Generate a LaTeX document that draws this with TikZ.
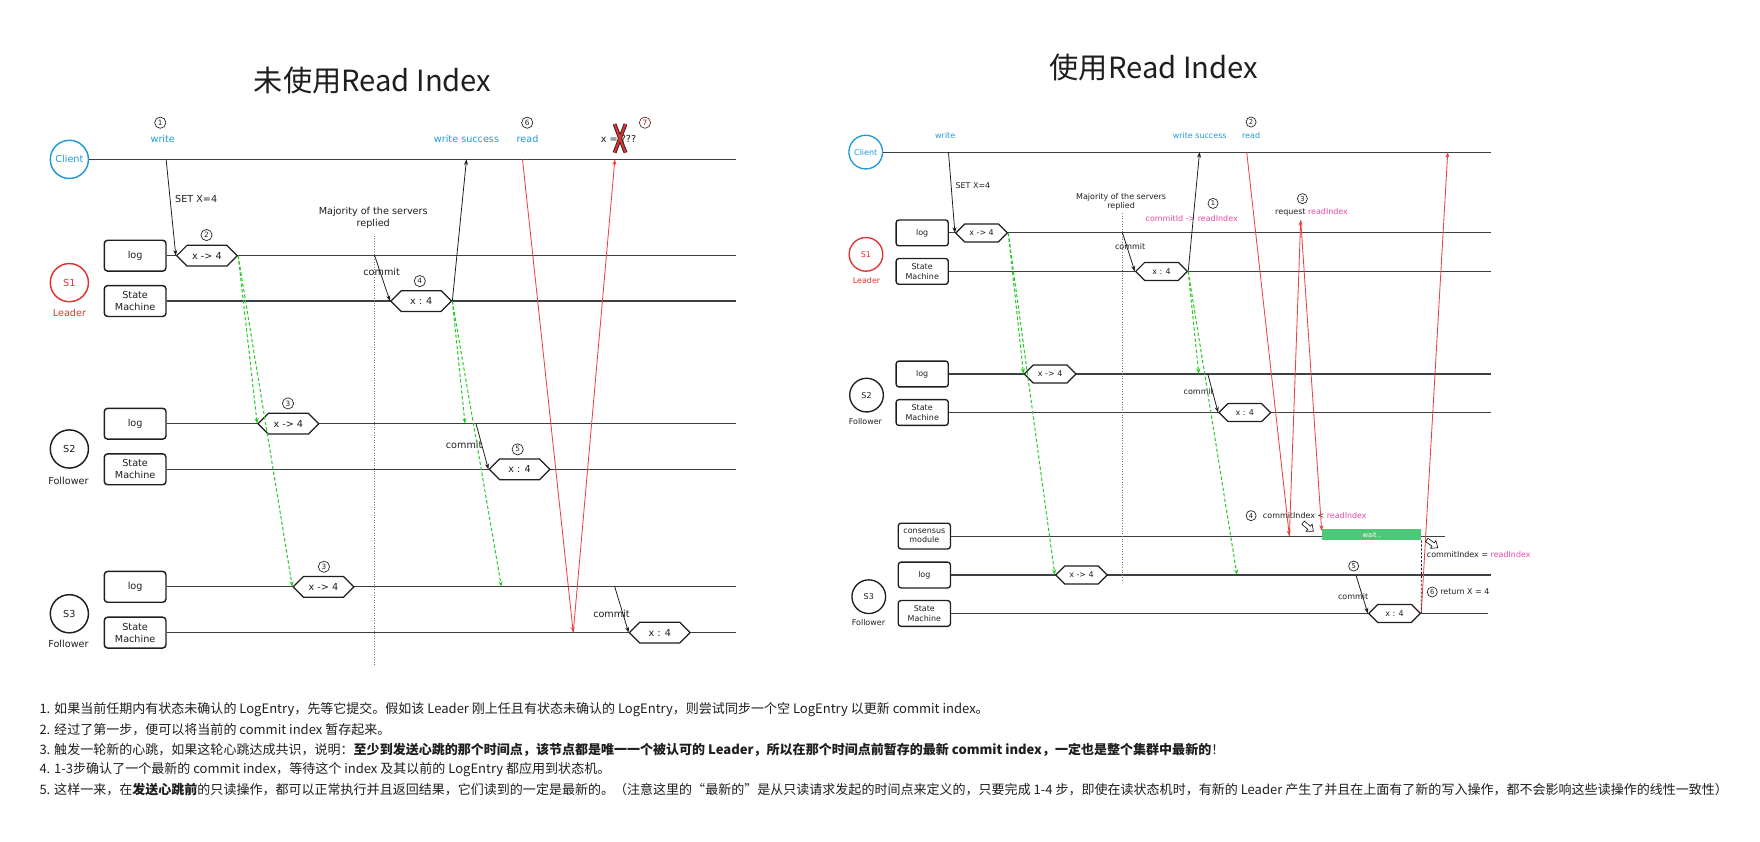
\documentclass[tikz,border=0pt]{standalone}
\usepackage{fontspec}
\setmainfont{DejaVu Sans}
\newfontfamily\cjk{Noto Sans CJK SC}
\usetikzlibrary{arrows.meta,shapes.symbols}
\definecolor{cblue}{RGB}{30,155,215}
\definecolor{cred}{RGB}{224,49,49}
\definecolor{lred}{RGB}{238,64,64}
\definecolor{cpink}{RGB}{228,72,168}
\definecolor{cgreen}{RGB}{40,200,40}
\definecolor{wgreen}{RGB}{76,200,118}
\definecolor{ink}{RGB}{30,30,30}
\definecolor{tline}{RGB}{60,64,68}
\definecolor{dred}{RGB}{110,35,35}
\definecolor{dgray}{RGB}{120,120,120}
\newcommand\dfl{\fontsize{8.6}{10.5}\selectfont}
\newcommand\dfr{\fontsize{7.1}{8.4}\selectfont}
\begin{document}
\begin{tikzpicture}[x=1pt,y=-1pt,
 tl/.style={draw=tline,line width=1pt},
 lbox/.style={draw=ink,rounded corners=3pt,line width=1.3pt,align=center,inner sep=0pt,minimum width=55pt,minimum height=27.5pt,font=\dfl,text=ink},
 rbox/.style={draw=ink,rounded corners=2.5pt,line width=1.2pt,align=center,inner sep=0pt,minimum width=46.5pt,minimum height=23pt,font=\dfr,text=ink},
 hexa/.style={signal,signal to=east and west,draw=ink,fill=white,line width=1.1pt,inner sep=0pt,text=ink},
 lhex/.style={hexa,minimum width=54pt,minimum height=18.5pt,font=\dfl},
 rhex/.style={hexa,minimum width=46pt,minimum height=16pt,font=\dfr},
 lcirc/.style={circle,line width=1.3pt,inner sep=0pt,minimum size=34pt,font=\dfl},
 rcirc/.style={circle,line width=1.2pt,inner sep=0pt,minimum size=30pt,font=\dfr},
 llab/.style={font=\dfl,text=ink,inner sep=0pt,align=center},
 rlab/.style={font=\dfr,text=ink,inner sep=0pt,align=center},
 lnum/.style={circle,draw=ink,line width=0.6pt,inner sep=0pt,minimum size=10pt,font=\fontsize{6.5}{6.5}\selectfont,text=ink},
 rnum/.style={lnum,minimum size=9pt,font=\fontsize{6}{6}\selectfont},
 arr/.style={-{Stealth[length=5pt,width=3.6pt]},line width=0.7pt,draw=ink},
 garr/.style={-{Stealth[length=5pt,width=3.6pt]},line width=0.9pt,draw=cgreen,dash pattern=on 3pt off 2pt},
 rarr/.style={-{Stealth[length=5pt,width=3.6pt]},line width=0.75pt,draw=lred},
 dotl/.style={draw=dgray,line width=0.6pt,dash pattern=on 0.7pt off 1.6pt},
 btxt/.style={font=\cjk\fontsize{11.6}{13}\selectfont,text=ink,anchor=west,inner sep=0pt},
 ttl/.style={font=\cjk\fontsize{26}{26}\selectfont,text=ink}
]
\useasboundingbox (0,0) rectangle (1568,750);

% ---------------- titles
\node[ttl] (tL) at (332,72) {未使用Read Index};
\node[ttl] (tR) at (1028,60) {使用Read Index};

% ================= LEFT DIAGRAM
\node[lcirc,draw=cblue,text=cblue] (cL) at (61.8,142) {Client};
\node[lcirc,draw=cred,text=cred] (s1L) at (61.8,251.8) {S1};
\node[llab,text=cred] (ldL) at (61.9,278.6) {Leader};
\node[lcirc,draw=ink,text=ink] (s2L) at (61.8,400) {S2};
\node[llab] (f2L) at (61,428) {Follower};
\node[lcirc,draw=ink,text=ink] (s3L) at (61.8,546.8) {S3};
\node[llab] (f3L) at (61,573.5) {Follower};

\node[lbox] (lg1L) at (120.4,227.8) {log};
\node[lbox] (sm1L) at (120.4,268.2) {State\\Machine};
\node[lbox] (lg2L) at (120.4,377.5) {log};
\node[lbox] (sm2L) at (120.4,418.1) {State\\Machine};
\node[lbox] (lg3L) at (120.4,522.8) {log};
\node[lbox] (sm3L) at (120.4,563.6) {State\\Machine};

\coordinate (ecL) at (656,142);
\coordinate (e1L) at (656,227.8);
\coordinate (e2L) at (656,268.2);
\coordinate (e3L) at (656,377.5);
\coordinate (e4L) at (656,418.1);
\coordinate (e5L) at (656,522.8);
\coordinate (e6L) at (656,563.6);
\draw[tl] (cL.east) -- (ecL);
\draw[tl] (lg1L.east) -- (e1L);
\draw[tl] (sm1L.east) -- (e2L);
\draw[tl] (lg2L.east) -- (e3L);
\draw[tl] (sm2L.east) -- (e4L);
\draw[tl] (lg3L.east) -- (e5L);
\draw[tl] (sm3L.east) -- (e6L);

\coordinate (dL0) at (333.3,210);
\coordinate (dL1) at (333.3,593);
\draw[dotl] (dL0) -- (dL1);

\node[lhex] (h2L) at (184.4,227.8) {x -> 4};
\node[lhex] (h4L) at (375.2,268.2) {x : 4};
\node[lhex] (h3aL) at (256.9,377.5) {x -> 4};
\node[lhex] (h5L) at (462.9,418.1) {x : 4};
\node[lhex] (h3bL) at (288.2,522.8) {x -> 4};
\node[lhex] (h6L) at (587.8,563.6) {x : 4};

\node[lnum] (n1L) at (142.8,109.3) {1};
\node[lnum] (n2L) at (184,209.4) {2};
\node[lnum] (n4L) at (374,250.4) {4};
\node[lnum] (n6L) at (469.7,109.3) {6};
\node[lnum,draw=dred,text=dred] (n7L) at (574.6,109.3) {7};
\node[lnum] (n3aL) at (256.6,359.4) {3};
\node[lnum] (n5L) at (461.2,400.3) {5};
\node[lnum] (n3bL) at (288.6,504.9) {3};

\node[llab,text=cblue] (wrL) at (145,123.8) {write};
\node[llab] (setL) at (174.8,177.6) {SET X=4};
\node[llab] (majL) at (332.5,194.2) {Majority of the servers\\replied};
\node[llab] (cm1L) at (340,242.6) {commit};
\node[llab,text=cblue] (wsL) at (415.6,123.8) {write success};
\node[llab,text=cblue] (rdL) at (470,123.8) {read};
\node[llab] (xqL) at (551,124) {x = ???};
\node[llab] (cm2L) at (413.5,396.7) {commit};
\node[llab] (cm3L) at (544.8,546.5) {commit};

% arrows left
\coordinate (wL) at (148,142);
\draw[arr] (wL) -- (h2L.west);
\draw[garr] (h2L.east) -- (h3aL.west);
\draw[garr] (h2L.east) -- (h3bL.west);
\coordinate (cmL) at (333.8,227.8);
\draw[arr] (cmL) -- (h4L.west);
\coordinate (wsLe) at (415.6,142);
\draw[arr] (h4L.east) -- (wsLe);
\coordinate (g2aL) at (414.3,377.5);
\coordinate (g2bL) at (446.7,522.8);
\draw[garr] (h4L.east) -- (g2aL);
\draw[garr] (h4L.east) -- (g2bL);
\coordinate (c2L) at (424.1,377.5);
\draw[arr] (c2L) -- (h5L.west);
\coordinate (c3L) at (547.7,522.8);
\draw[arr] (c3L) -- (h6L.west);
\coordinate (rd0L) at (465.5,142);
\coordinate (rd1L) at (510.7,563.6);
\coordinate (rd2L) at (547.8,142);
\draw[rarr] (rd0L) -- (rd1L);
\draw[rarr] (rd1L) -- (rd2L);
% big X
\draw[ink,line width=3.4pt] (547.5,110.5) -- (557.3,136) (557.3,110.5) -- (547.5,136);
\draw[cred,line width=1.9pt] (547.5,110.5) -- (557.3,136) (557.3,110.5) -- (547.5,136);

% ================= RIGHT DIAGRAM
\node[rcirc,draw=cblue,text=cblue] (cR) at (771.3,135.5) {Client};
\node[rcirc,draw=cred,text=cred] (s1R) at (771.5,226.6) {S1};
\node[rlab,text=cred] (ldR) at (772,250) {Leader};
\node[rcirc,draw=ink,text=ink] (s2R) at (772,352) {S2};
\node[rlab] (f2R) at (771,375.4) {Follower};
\node[rcirc,draw=ink,text=ink] (s3R) at (774,531.6) {S3};
\node[rlab] (f3R) at (773.7,554.8) {Follower};

\node[rbox] (lg1R) at (821.6,207.5) {log};
\node[rbox] (sm1R) at (821.6,241.8) {State\\Machine};
\node[rbox] (lg2R) at (821.6,333.2) {log};
\node[rbox] (sm2R) at (821.6,367.5) {State\\Machine};
\node[rbox] (csR) at (823.5,477.6) {consensus\\module};
\node[rbox] (lg3R) at (823.5,512.3) {log};
\node[rbox] (sm3R) at (823.5,546.5) {State\\Machine};

\coordinate (ecR) at (1328,135.5);
\coordinate (e1R) at (1328,207.5);
\coordinate (e2R) at (1328,241.8);
\coordinate (e3R) at (1328,333.2);
\coordinate (e4R) at (1328,367.5);
\coordinate (e5R) at (1287,477.6);
\coordinate (e6R) at (1328,512.3);
\coordinate (e7R) at (1326,546.5);
\draw[tl] (cR.east) -- (ecR);
\draw[tl] (lg1R.east) -- (e1R);
\draw[tl] (sm1R.east) -- (e2R);
\draw[tl] (lg2R.east) -- (e3R);
\draw[tl] (sm2R.east) -- (e4R);
\draw[tl] (csR.east) -- (e5R);
\draw[tl] (lg3R.east) -- (e6R);
\draw[tl] (sm3R.east) -- (e7R);

\coordinate (dR0) at (1000,190);
\coordinate (dR1) at (1000,517);
\draw[dotl] (dR0) -- (dR1);

\node[rhex] (h1R) at (874.5,207.5) {x -> 4};
\node[rhex] (h4R) at (1034.8,241.8) {x : 4};
\node[rhex] (h2R) at (935.6,333.2) {x -> 4};
\node[rhex] (h5R) at (1109,367.5) {x : 4};
\node[rhex] (h3R) at (963.5,512.3) {x -> 4};
\node[rhex] (h6R) at (1242.4,546.5) {x : 4};

\node[rlab,text=cblue] (wrR) at (842.1,120.3) {write};
\node[rlab] (setR) at (866.8,165.7) {SET X=4};
\node[rlab] (majR) at (998.8,179.6) {Majority of the servers\\replied};
\node[rlab] (cm1R) at (1006.8,219.8) {commit};
\node[rnum] (n1R) at (1080.7,181.2) {1};
\node[rlab,text=cpink] (cidR) at (1061.7,194.5) {commitId -> readIndex};
\node[rlab,text=cblue] (wsR) at (1068.8,120.3) {write success};
\node[rnum] (n2R) at (1114.6,108.7) {2};
\node[rlab,text=cblue] (rdR) at (1114.6,120.3) {read};
\node[rnum] (n3R) at (1160.3,177) {3};
\node[rlab] (reqR) at (1168.5,189.5) {request \textcolor{cpink}{readIndex}};
\node[rlab] (cm2R) at (1068,349) {commit};
\node[rnum] (n4R) at (1114.6,459.4) {4};
\node[rlab,anchor=west] (ci1R) at (1125,459.4) {commitIndex < \textcolor{cpink}{readIndex}};
\node[fill=wgreen,minimum width=88pt,minimum height=10pt,inner sep=0pt,text=white,font=\fontsize{6}{6}\selectfont] (waitR) at (1222.2,476.3) {wait .};
\node[rlab,anchor=west] (ci2R) at (1271,493.9) {commitIndex = \textcolor{cpink}{readIndex}};
\node[rnum] (n5R) at (1206,504.3) {5};
\node[rlab] (cm3R) at (1205.5,531.6) {commit};
\node[rnum] (n6R) at (1276,527.4) {6};
\node[rlab,anchor=west] (retR) at (1283,527.4) {return X = 4};

% arrows right
\coordinate (wR0) at (845,135.5);
\draw[arr] (wR0) -- (h1R.west);
\coordinate (cmR0) at (1000,207.5);
\draw[arr] (cmR0) -- (h4R.west);
\coordinate (wsR0) at (1068.7,135.5);
\draw[arr] (h4R.east) -- (wsR0);
\draw[garr] (h1R.east) -- (h2R.west);
\draw[garr] (h1R.east) -- (h3R.west);
\coordinate (g2R) at (1068,333.2);
\coordinate (g3R) at (1102,512.3);
\draw[garr] (h4R.east) -- (g2R);
\draw[garr] (h4R.east) -- (g3R);
\coordinate (c2R) at (1076,333.2);
\draw[arr] (c2R) -- (h5R.west);
\coordinate (c3R) at (1208,512.3);
\draw[arr] (c3R) -- (h6R.west);
\coordinate (rr0) at (1110.7,135.5);
\coordinate (rr1) at (1148.7,477.6);
\coordinate (rr2) at (1158.8,196);
\coordinate (rr3) at (1177.5,473);
\coordinate (rr4) at (1289.8,135.5);
\draw[rarr] (rr0) -- (rr1);
\draw[rarr] (rr1) -- (rr2);
\draw[rarr] (rr2) -- (rr3);
\draw[rarr] (h6R.east) -- (rr4);
\draw[ink,line width=0.7pt,dash pattern=on 2pt off 1.5pt] (waitR.south east) -- (h6R.east);
% hollow arrows
\draw[ink,line width=0.6pt,fill=white,shift={(1165.5,469.5)},rotate=-40] (-6,-1.8)--(1,-1.8)--(1,-4.2)--(6,0)--(1,4.2)--(1,1.8)--(-6,1.8)--cycle;
\draw[ink,line width=0.6pt,fill=white,shift={(1276,484.5)},rotate=-35] (-6,-1.8)--(1,-1.8)--(1,-4.2)--(6,0)--(1,4.2)--(1,1.8)--(-6,1.8)--cycle;

% ================= BOTTOM TEXT
\node[btxt] (b1) at (35,632) {1. 如果当前任期内有状态未确认的 LogEntry，先等它提交。假如该 Leader 刚上任且有状态未确认的 LogEntry，则尝试同步一个空 LogEntry 以更新 commit index。};
\node[btxt] (b2) at (35,650) {2. 经过了第一步，便可以将当前的 commit index 暂存起来。};
\node[btxt] (b3) at (35,668) {3. 触发一轮新的心跳，如果这轮心跳达成共识，说明：{\bfseries 至少到发送心跳的那个时间点，该节点都是唯一一个被认可的 Leader，所以在那个时间点前暂存的最新 commit index，一定也是整个集群中最新的}！};
\node[btxt] (b4) at (35,686) {4. 1-3步确认了一个最新的 commit index，等待这个 index 及其以前的 LogEntry 都应用到状态机。};
\node[btxt] (b5) at (35,703) {5. 这样一来，在{\bfseries 发送心跳前}的只读操作，都可以正常执行并且返回结果，它们读到的一定是最新的。（注意这里的“最新的”是从只读请求发起的时间点来定义的，只要完成 1-4 步，即使在读状态机时，有新的 Leader 产生了并且在上面有了新的写入操作，都不会影响这些读操作的线性一致性）};
\end{tikzpicture}
\end{document}
